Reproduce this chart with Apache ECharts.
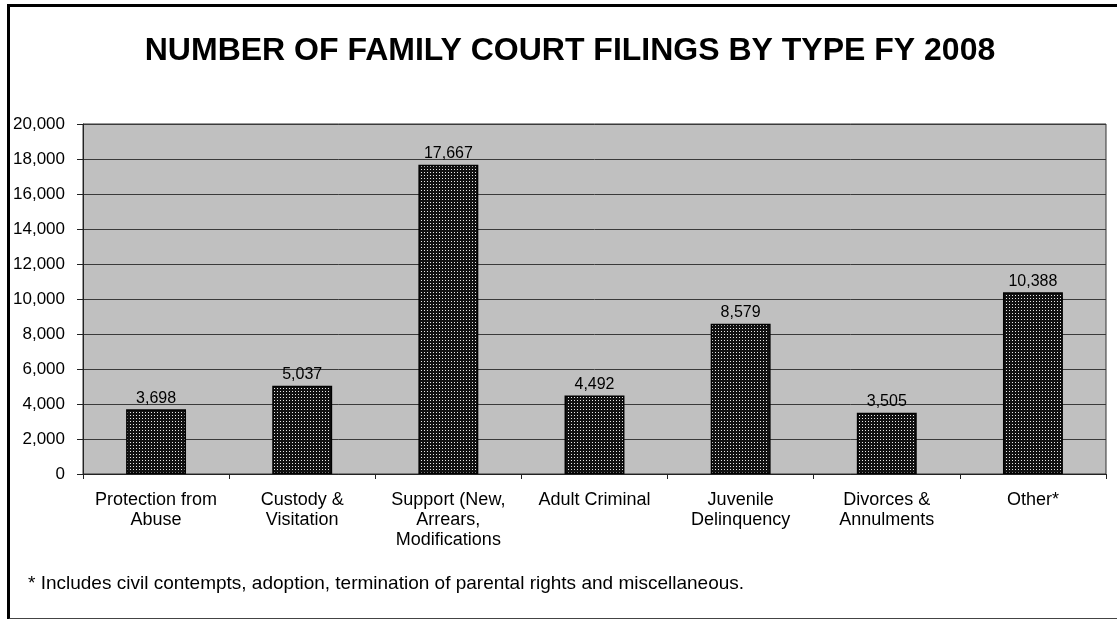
<!DOCTYPE html>
<html>
<head>
<meta charset="utf-8">
<title>Family Court Filings FY 2008</title>
<script src="https://cdn.jsdelivr.net/npm/echarts@6/dist/echarts.min.js"></script>
<style>
  html, body { margin: 0; padding: 0; background: #fff; }
  #frame { position: absolute; left: 7px; top: 4px; width: 1110px; height: 611px;
           border-left: 3px solid #000; border-top: 3px solid #000; border-bottom: 2px solid #444; }
  #chart { position: absolute; left: 0; top: 0; width: 1117px; height: 619px; }
</style>
</head>
<body>
<div id="chart"></div>
<div id="frame"></div>
<script>
  // data
  const categories = ['Protection from\nAbuse', 'Custody &\nVisitation', 'Support (New,\nArrears,\nModifications',
    'Adult Criminal', 'Juvenile\nDelinquency', 'Divorces &\nAnnulments', 'Other*'];
  const filings = [3698, 5037, 17667, 4492, 8579, 3505, 10388];

  // dotted fill like the old excel pattern
  const pat = document.createElement('canvas');
  pat.width = 3; pat.height = 3;
  const ctx = pat.getContext('2d');
  ctx.fillStyle = '#111';
  ctx.fillRect(0, 0, 3, 3);
  ctx.fillStyle = '#e8e8e8';
  ctx.fillRect(1, 1, 1, 1);

  const chart = echarts.init(document.getElementById('chart'));

  const option = {
    backgroundColor: '#fff',
    animation: false,
    grid: { left: 83, right: 11, top: 124, bottom: 145, show: true, backgroundColor: '#c0c0c0', borderColor: '#333', borderWidth: 1 },
    xAxis: {
      type: 'category',
      data: categories,
      axisLine: { lineStyle: { color: '#222', width: 1 } },
      axisTick: { show: true, length: 5, lineStyle: { color: '#222' } },
      axisLabel: { fontFamily: 'Liberation Sans', fontSize: 18, color: '#000', lineHeight: 20, margin: 16, interval: 0 }
    },
    yAxis: {
      type: 'value',
      min: 0,
      max: 20000,
      interval: 2000,
      axisLine: { show: true, lineStyle: { color: '#222' } },
      axisTick: { show: true, length: 6, lineStyle: { color: '#222' } },
      splitLine: { lineStyle: { color: '#3a3a3a', width: 1 } },
      axisLabel: {
        fontFamily: 'Liberation Sans', fontSize: 17, color: '#000', margin: 18,
        formatter: v => v.toLocaleString('en-US')
      }
    },
    series: [{
      type: 'bar',
      data: filings,
      barWidth: '41%',
      itemStyle: { color: { image: pat, repeat: 'repeat' }, borderColor: '#000', borderWidth: 1.5 },
      label: {
        show: true,
        position: 'top',
        distance: 3,
        fontFamily: 'Liberation Sans', fontSize: 16, color: '#000',
        formatter: p => p.value.toLocaleString('en-US')
      }
    }],
    graphic: [{
      type: 'text',
      x: 570,
      y: 51,
      style: {
        text: 'NUMBER OF FAMILY COURT FILINGS BY TYPE FY 2008',
        font: 'bold 32px "Liberation Sans"',
        fill: '#000',
        textAlign: 'center',
        textVerticalAlign: 'middle'
      }
    }, {
      type: 'text',
      x: 28,
      y: 584,
      style: {
        text: '* Includes civil contempts, adoption, termination of parental rights and miscellaneous.',
        font: '19px "Liberation Sans"',
        fill: '#000',
        textVerticalAlign: 'middle'
      }
    }]
  };

  chart.setOption(option);
</script>
</body>
</html>
